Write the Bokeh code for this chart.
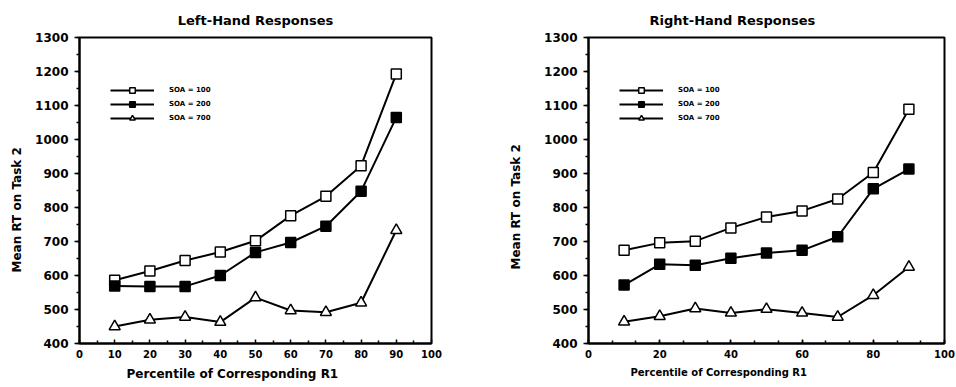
from bokeh.plotting import figure
from bokeh.layouts import row
from bokeh.models import (Legend, LegendItem, FixedTicker, Range1d,
                          SingleIntervalTicker, Title)
from bokeh.embed import file_html
from bokeh.resources import INLINE

# ---- data ----
percentiles = [10, 20, 30, 40, 50, 60, 70, 80, 90]

left_soa100 = [586, 613, 644, 669, 702, 776, 833, 923, 1193]
left_soa200 = [569, 568, 568, 600, 668, 697, 745, 848, 1065]
left_soa700 = [450, 470, 478, 463, 535, 497, 492, 520, 733]

right_soa100 = [674, 696, 701, 740, 772, 790, 825, 903, 1089]
right_soa200 = [572, 633, 630, 651, 666, 674, 714, 855, 913]
right_soa700 = [464, 480, 503, 490, 501, 490, 478, 542, 625]

series_labels = ["SOA = 100", "SOA = 200", "SOA = 700"]
left_x_ticks = [0, 10, 20, 30, 40, 50, 60, 70, 80, 90, 100]
left_x_minor = [5, 15, 25, 35, 45, 55, 65, 75, 85, 95]

FONT = "DejaVu Sans"


def make_panel(title, s100, s200, s700, border_left, border_right, frame_w,
               x_ticker, title_align, title_offset,
               ylab_offset, ylab_standoff, xlab_offset, xlab_size):
    p = figure(frame_width=frame_w, frame_height=306,
               min_border_left=border_left, min_border_right=border_right,
               min_border_top=37, min_border_bottom=44,
               x_range=Range1d(0, 100), y_range=Range1d(400, 1300),
               output_backend="svg", toolbar_location=None)
    p.title.text = title
    p.title.align = title_align
    p.title.offset = title_offset
    p.title.vertical_align = "middle"
    p.title.text_font = FONT
    p.title.text_font_style = "bold"
    p.title.text_font_size = "13px"
    p.title.text_color = "black"
    p.title.standoff = 18

    p.xgrid.visible = False
    p.ygrid.visible = False
    p.outline_line_color = "black"
    p.outline_line_width = 2
    p.outline_line_alpha = 1
    p.background_fill_color = "white"
    p.border_fill_color = "white"

    p.xaxis.ticker = x_ticker
    p.yaxis.ticker = SingleIntervalTicker(interval=100, num_minor_ticks=2)
    for ax in (p.xaxis, p.yaxis):
        ax.axis_line_width = 2
        ax.axis_line_color = "black"
        ax.major_tick_line_color = "black"
        ax.minor_tick_line_color = "black"
        ax.major_tick_line_width = 1.5
        ax.minor_tick_line_width = 1.5
        ax.major_label_text_font = FONT
        ax.major_label_text_font_style = "bold"
        ax.major_label_text_color = "black"
    p.xaxis.major_label_text_font_size = "10px"
    p.yaxis.major_label_text_font_size = "12px"
    p.xaxis.major_tick_in = 4
    p.xaxis.major_tick_out = 0
    p.xaxis.minor_tick_in = 3
    p.xaxis.minor_tick_out = 0
    p.xaxis.major_label_standoff = 6
    p.yaxis.major_tick_in = 0
    p.yaxis.major_tick_out = 5
    p.yaxis.minor_tick_in = 0
    p.yaxis.minor_tick_out = 3
    p.yaxis.major_label_standoff = 6

    markers = ["square", "square", "triangle"]
    fills = ["white", "black", "white"]
    sizes = [10, 10, 11]
    items = []
    for ys, mk, fc, sz, lab in zip([s100, s200, s700], markers, fills, sizes, series_labels):
        lr = p.line(percentiles, ys, line_color="black", line_width=2)
        sr = p.scatter(percentiles, ys, marker=mk, size=sz, fill_color=fc,
                       line_color="black", line_width=1.5)
        items.append(LegendItem(label=lab, renderers=[lr, sr]))

    legend = Legend(items=items, location=(31, 218), padding=0, spacing=0, margin=0,
                    glyph_width=44, glyph_height=14, label_height=14,
                    label_standoff=15, border_line_color=None,
                    background_fill_alpha=0,
                    label_text_font=FONT, label_text_font_style="bold",
                    label_text_font_size="7px", label_text_color="black")
    p.add_layout(legend)

    ylab = Title(text="Mean RT on Task 2", align="left", offset=ylab_offset,
                 standoff=ylab_standoff, vertical_align="middle",
                 text_font=FONT, text_font_style="bold", text_font_size="12px",
                 text_color="black")
    p.add_layout(ylab, "left")
    xlab = Title(text="Percentile of Corresponding R1", align="left",
                 offset=xlab_offset, standoff=8, vertical_align="bottom",
                 text_font=FONT, text_font_style="bold", text_font_size=xlab_size,
                 text_color="black")
    p.add_layout(xlab, "below")
    return p


p1 = make_panel("Left-Hand Responses", left_soa100, left_soa200, left_soa700,
                79, 57, 352,
                FixedTicker(ticks=left_x_ticks, minor_ticks=left_x_minor),
                "center", 0, 71, 16, 47, "12px")
p2 = make_panel("Right-Hand Responses", right_soa100, right_soa200, right_soa700,
                100, 12, 356,
                SingleIntervalTicker(interval=20, num_minor_ticks=3),
                "left", 61, 74, 35, 42, "10px")

layout = row(p1, p2)
open("out.html", "w").write(file_html(layout, INLINE))
